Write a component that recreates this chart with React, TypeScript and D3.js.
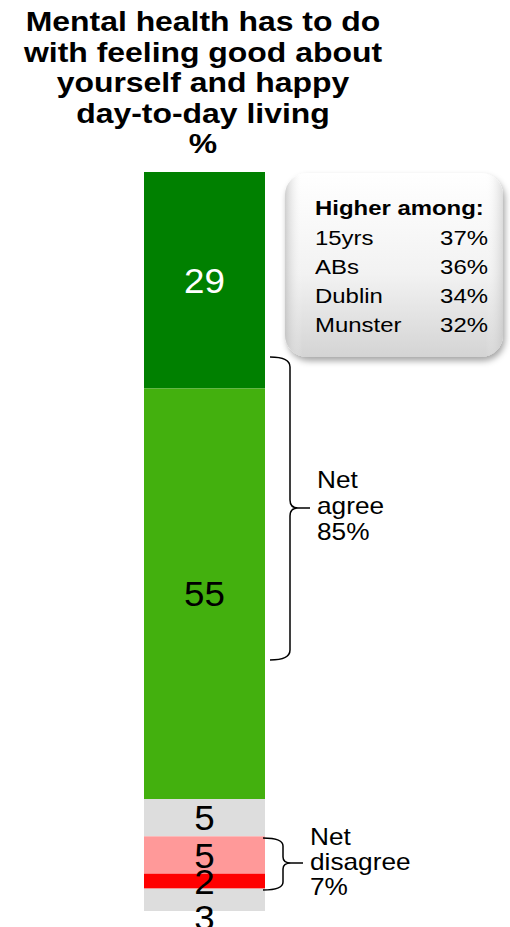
import React from "react";
import * as d3 from "d3";

const categories = ["Strongly agree", "Agree", "Neither", "Disagree", "Strongly disagree", "Don't know"];
const values = [29, 55, 5, 5, 2, 3];
const colors = ["#008000", "#43B00E", "#DDDDDD", "#FF9999", "#FF0000", "#DDDDDD"];
const labelColors = ["#ffffff", "#000000", "#000000", "#000000", "#000000", "#000000"];
const titleLines = ["Mental health has to do", "with feeling good about", "yourself and happy", "day-to-day living", "%"];
const higherGroups = ["15yrs", "ABs", "Dublin", "Munster"];
const higherValues = ["37%", "36%", "34%", "32%"];
const netAgree = ["Net", "agree", "85%"];
const netDisagree = ["Net", "disagree", "7%"];

const FONT = "'Liberation Sans', Arial, Helvetica, sans-serif";
const SX = 1.14;

function T(props: any) {
  const { x, y, sx = SX, children, ...rest } = props;
  return (
    <text transform={`translate(${x},${y}) scale(${sx},1)`} {...rest}>
      {children}
    </text>
  );
}

export default function App() {
  const W = 510, H = 927;
  const barX = 144, barW = 121;
  const total = d3.sum(values);
  const y = d3.scaleLinear().domain([0, total]).range([172, 911]);
  const stack = values.map((v, i) => {
    const start = d3.sum(values.slice(0, i));
    return { v, i, y0: y(start), y1: y(start + v) };
  });

  return (
    <svg width={W} height={H} style={{ position: "absolute", left: 0, top: 0 }} fontFamily={FONT}>
      <defs>
        <linearGradient id="boxGrad" x1="0" y1="0" x2="0" y2="1">
          <stop offset="0" stopColor="#ffffff" />
          <stop offset="0.55" stopColor="#f2f2f2" />
          <stop offset="1" stopColor="#d4d4d4" />
        </linearGradient>
        <linearGradient id="boxGradH" x1="0" y1="0" x2="1" y2="0">
          <stop offset="0" stopColor="#bcbcbc" stopOpacity="0.7" />
          <stop offset="0.08" stopColor="#ffffff" stopOpacity="0" />
          <stop offset="0.92" stopColor="#ffffff" stopOpacity="0" />
          <stop offset="1" stopColor="#bcbcbc" stopOpacity="0.5" />
        </linearGradient>
        <filter id="shadow" x="-20%" y="-20%" width="140%" height="140%">
          <feDropShadow dx="2" dy="4" stdDeviation="3" floodColor="#000" floodOpacity="0.35" />
        </filter>
      </defs>

      {titleLines.map((t, i) => (
        <T key={i} x={203} y={31 + i * 30.6} textAnchor="middle" fontWeight="bold" fontSize={28} fill="#000">
          {t}
        </T>
      ))}

      {stack.map((s) => (
        <rect key={s.i} x={barX} y={s.y0} width={barW} height={s.y1 - s.y0} fill={colors[s.i]} />
      ))}
      {stack.map((s) => {
        const last = s.i === values.length - 1;
        const cy = last ? s.y1 + 6 : (s.y0 + s.y1) / 2;
        return (
          <T key={"l" + s.i} sx={1.05} x={barX + barW / 2} y={cy} dy="0.36em" textAnchor="middle" fontSize={35} fill={labelColors[s.i]}>
            {s.v}
          </T>
        );
      })}

      {/* callout */}
      <g filter="url(#shadow)">
        <rect x={285} y={173} width={218} height={184} rx={22} fill="url(#boxGrad)" />
      </g>
      <rect x={285} y={173} width={218} height={184} rx={22} fill="url(#boxGradH)" />
      <T x={315} y={215} fontWeight="bold" fontSize={21} fill="#000">Higher among:</T>
      {higherGroups.map((g, i) => (
        <g key={g}>
          <T x={315} y={245 + i * 29} fontSize={21} fill="#000">{g}</T>
          <T x={488} y={245 + i * 29} fontSize={21} textAnchor="end" fill="#000">{higherValues[i]}</T>
        </g>
      ))}

      {/* net agree brace */}
      <path
        d="M270,357 Q290,357 290,367 V500 Q290,508 298,508 H310 M298,508 Q290,508 290,516 V650 Q290,660 270,660"
        fill="none" stroke="#000" strokeWidth={1.5}
      />
      {netAgree.map((t, i) => (
        <T key={t} x={317} y={488 + i * 26} fontSize={23} fill="#000">{t}</T>
      ))}

      {/* net disagree brace */}
      <path
        d="M263,838 Q283,838 283,846 V857 Q283,863 291,863 H303 M291,863 Q283,863 283,869 V882 Q283,890 263,890"
        fill="none" stroke="#000" strokeWidth={1.5}
      />
      {netDisagree.map((t, i) => (
        <T key={t} x={310} y={845 + i * 25} fontSize={23} fill="#000">{t}</T>
      ))}
    </svg>
  );
}
